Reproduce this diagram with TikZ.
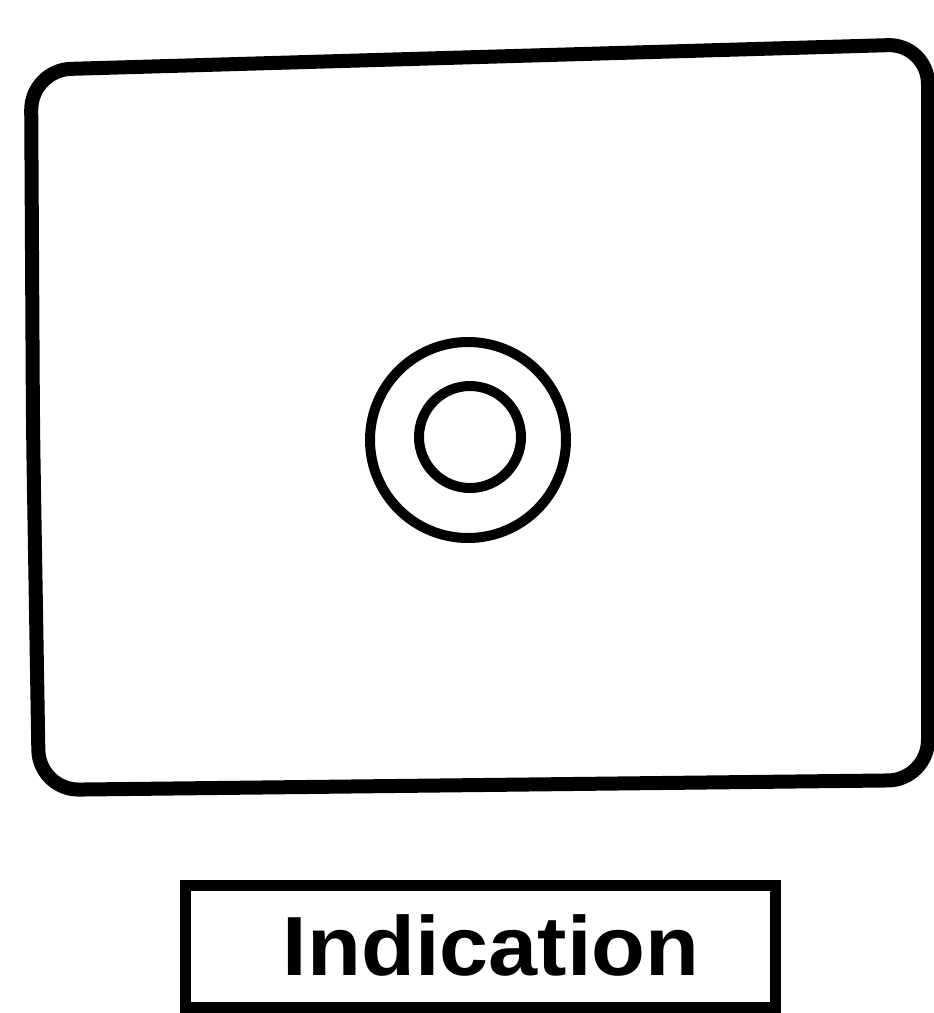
\documentclass[tikz,border=0pt]{standalone}
\usepackage{fontspec}
\setmainfont{Liberation Sans}
\begin{document}
\begin{tikzpicture}[x=1pt,y=-1pt,
  frame/.style={draw=black,line width=14pt,rounded corners=40pt,line join=round},
  ring/.style={draw=black,line width=10pt},
  labelbox/.style={draw=black,line width=11pt,minimum width=590pt,minimum height=122pt,inner sep=0pt},
  labeltext/.style={font=\bfseries\fontsize{84}{90}\selectfont,inner sep=0pt,anchor=base,xscale=1.05}]
\useasboundingbox (0,0) rectangle (934,1013);
\draw[frame] (33,430) -- (31,70) -- (928,44) -- (928,780) -- (39,790) -- cycle;
\node[ring,circle,minimum size=196pt,inner sep=0pt] (outer) at (468,440) {};
\node[ring,circle,minimum size=102pt,inner sep=0pt] (inner) at (470,437) {};
\node[labelbox] (box) at (480,946) {};
\node[labeltext] (lbl) at (491,975) {Indication};
\end{tikzpicture}
\end{document}
